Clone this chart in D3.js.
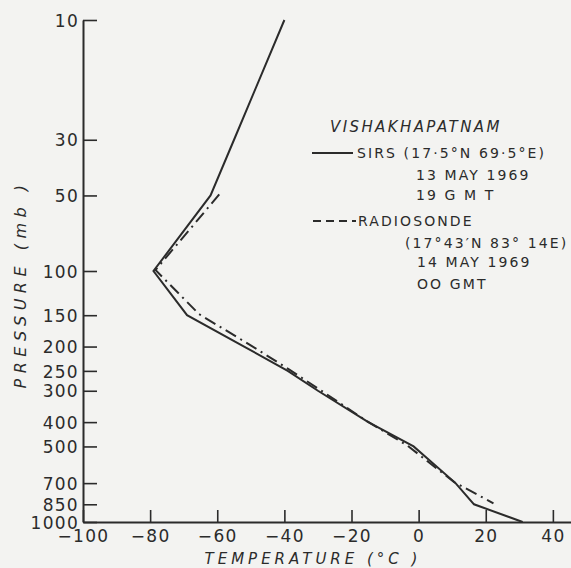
<!DOCTYPE html>
<html lang="en">
<head>
  <meta charset="UTF-8">
  <title>Vishakhapatnam temperature profile</title>
  <script src="https://d3js.org/d3.v7.min.js"></script>
  <style>
    body { margin: 0; background: #f3f3f1; }
    text { font-family: "DejaVu Sans", sans-serif; fill: #2b2b2b; }
  </style>
</head>
<body>
<div id="chart"></div>
<script>
  // data (temperature in deg C, pressure in mb)
  var sirsP = [10, 30, 50, 100, 150, 200, 250, 300, 400, 500, 700, 850, 1000];
  var sirsT = [-40, -55, -62, -79, -69, -52, -39, -30, -15, -1.5, 11, 16.5, 31];

  var radioP = [50, 100, 150, 200, 250, 300, 400, 500, 700, 850];
  var radioT = [-60, -79, -66, -50.5, -39, -30, -16, -4, 10, 21.7];

  var xTicks = [-100, -80, -60, -40, -20, 0, 20, 40];
  var yTicks = [10, 30, 50, 100, 150, 200, 250, 300, 400, 500, 700, 850, 1000];

  var legendTitle = "VISHAKHAPATNAM";
  var sirsLabel = ["SIRS (17\u00b75\u00b0N  69\u00b75\u00b0E)", "13 MAY 1969", "19 G M T"];
  var radioLabel = ["RADIOSONDE", "(17\u00b043\u2032N  83\u00b0 14E)", "14 MAY 1969", "OO  GMT"];

  var width = 571, height = 568;

  var svg = d3.select("#chart")
    .append("svg")
    .attr("width", width)
    .attr("height", height);

  // scales
  var x = d3.scaleLinear()
    .domain([-100, 45.4])
    .range([83, 571]);

  var y = d3.scaleLog()
    .domain([10, 1000])
    .range([20, 522]);

  // x axis
  var xAxis = svg.append("g")
    .attr("transform", "translate(0," + y(1000) + ")")
    .call(d3.axisBottom(x)
      .tickValues(xTicks)
      .tickFormat(function(d) { return d < 0 ? "\u2212" + Math.abs(d) : d; })
      .tickSizeInner(-12)
      .tickSizeOuter(0)
      .tickPadding(8));

  // y axis
  var yAxis = svg.append("g")
    .attr("transform", "translate(" + x(-100) + ",0)")
    .call(d3.axisLeft(y)
      .tickValues(yTicks)
      .tickFormat(d3.format("d"))
      .tickSizeInner(-14)
      .tickSizeOuter(0)
      .tickPadding(4));

  [xAxis, yAxis].forEach(function(a) {
    a.select(".domain").attr("stroke", "#2b2b2b").attr("stroke-width", 2);
    a.selectAll(".tick line").attr("stroke", "#2b2b2b").attr("stroke-width", 1.6);
    a.selectAll(".tick text")
      .style("font-family", "DejaVu Sans, sans-serif")
      .style("font-size", "17px")
      .style("letter-spacing", "1.3px")
      .attr("fill", "#2b2b2b");
  });
  yAxis.selectAll(".tick text").attr("dy", "0.36em");

  // axis titles
  svg.append("text")
    .attr("x", 313)
    .attr("y", 564)
    .attr("text-anchor", "middle")
    .style("font-size", "15px")
    .style("font-style", "italic")
    .style("letter-spacing", "4px")
    .text("TEMPERATURE (\u00b0C )");

  svg.append("text")
    .attr("transform", "translate(26,284) rotate(-90)")
    .attr("text-anchor", "middle")
    .style("font-size", "16px")
    .style("font-style", "italic")
    .style("letter-spacing", "5.5px")
    .text("PRESSURE (mb )");

  // profiles
  var line = d3.line()
    .x(function(d) { return x(d[0]); })
    .y(function(d) { return y(d[1]); });

  svg.append("path")
    .datum(d3.zip(sirsT, sirsP))
    .attr("fill", "none")
    .attr("stroke", "#2b2b2b")
    .attr("stroke-width", 2)
    .attr("d", line);

  svg.append("path")
    .datum(d3.zip(radioT, radioP))
    .attr("fill", "none")
    .attr("stroke", "#2b2b2b")
    .attr("stroke-width", 2)
    .attr("stroke-dasharray", "12,5,2,5")
    .attr("transform", "translate(2,-1)")
    .attr("d", line);

  // legend
  var lg = svg.append("g");
  lg.append("text")
    .attr("x", 330).attr("y", 132)
    .style("font-size", "15px")
    .style("font-style", "italic")
    .style("letter-spacing", "2.4px")
    .text(legendTitle);

  lg.append("line")
    .attr("x1", 312).attr("x2", 353).attr("y1", 153).attr("y2", 153)
    .attr("stroke", "#2b2b2b").attr("stroke-width", 1.8);
  lg.append("line")
    .attr("x1", 313).attr("x2", 356).attr("y1", 221).attr("y2", 221)
    .attr("stroke", "#2b2b2b").attr("stroke-width", 1.8)
    .attr("stroke-dasharray", "8,5");

  var lx = [357, 416, 416];
  var ly = [158, 180, 200];
  sirsLabel.forEach(function(t, i) {
    lg.append("text").attr("x", lx[i]).attr("y", ly[i])
      .style("font-size", "14px").style("letter-spacing", "2.1px").text(t);
  });
  var rx = [358, 405, 417, 417];
  var ry = [226, 248, 267, 289];
  radioLabel.forEach(function(t, i) {
    lg.append("text").attr("x", rx[i]).attr("y", ry[i])
      .style("font-size", "14px").style("letter-spacing", "2.1px").text(t);
  });
</script>
</body>
</html>
